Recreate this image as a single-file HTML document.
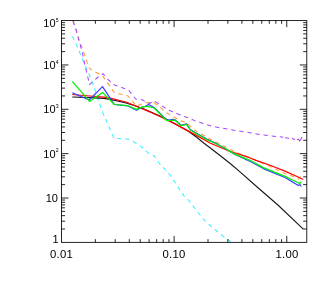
<!DOCTYPE html>
<html><head><meta charset="utf-8"><style>
html,body{margin:0;padding:0;background:#fff;}
svg{display:block;font-family:"Liberation Sans",sans-serif;}
text{fill:#000;}
</style></head><body>
<svg width="327" height="286" viewBox="0 0 327 286">
<rect width="327" height="286" fill="#fff"/>
<defs><filter id="tf" x="-10%" y="-10%" width="120%" height="120%"><feOffset dx="0" dy="0"/></filter><clipPath id="c"><rect x="61.45" y="20.6" width="245.35000000000002" height="221.75"/></clipPath></defs>
<g clip-path="url(#c)">
<path d="M72.3 36.3 L76.8 45.5 L79.8 52.9 L82.8 60.0 L86.5 68.2 L89.6 75.5 L92.2 82.0 L100.4 106.1 L103.0 113.2 L114.0 138.3 L128.7 139.2 L137.3 143.8 L142.3 147.5 L148.0 152.9 L154.5 156.0 L159.5 163.7 L165.6 169.8 L170.5 175.6 L175.4 182.7 L179.7 189.8 L184.0 195.9 L189.6 201.3 L194.3 207.7 L199.3 214.0 L204.5 220.3 L210.8 226.0 L216.8 231.0 L222.9 236.0 L229.2 240.5 L232.0 243.0" stroke="#38f0ff" stroke-width="1.05" fill="none" stroke-dasharray="4.25 3.86" stroke-dashoffset="0" stroke-linejoin="round"/>
<path d="M72.0 17.8 L73.5 22.9 L76.2 30.8 L78.7 38.8 L81.6 46.5 L84.4 54.5 L87.1 62.4 L89.4 68.6 L102.5 75.8 L114.4 92.8 L122.3 94.6 L127.9 95.9 L136.4 106.0 L145.6 102.7 L153.7 102.4 L160.1 107.1 L165.7 112.3 L173.0 116.5 L180.0 120.5 L186.6 122.7 L192.7 128.6 L198.9 133.0 L205.0 136.0 L211.7 139.9 L217.3 142.6 L225.3 147.0 L231.4 150.1 L238.1 153.1 L245.5 156.0 L250.0 157.6 L264.6 163.9 L271.3 167.0 L278.0 170.4 L285.0 173.6 L290.6 175.4 L294.8 177.1 L298.5 179.0 L300.7 176.5" stroke="#ff9a3c" stroke-width="1.05" fill="none" stroke-dasharray="4.3 3.9" stroke-dashoffset="5.0" stroke-linejoin="round"/>
<path d="M72.3 17.8 L73.8 22.9 L76.5 30.8 L78.5 38.8 L80.7 46.5 L82.7 54.5 L84.4 62.4 L86.1 70.0 L88.1 78.3 L89.4 84.7 L96.9 78.0 L102.8 73.7 L108.5 80.0 L114.4 84.9 L122.3 87.8 L128.5 90.0 L135.6 99.0 L142.1 99.7 L148.6 104.0 L154.3 100.9 L161.0 105.2 L168.0 109.9 L176.7 113.4 L183.6 116.3 L189.7 118.4 L196.4 121.5 L203.7 123.7 L211.7 126.1 L220.0 127.8 L232.6 130.0 L250.0 132.7 L262.0 134.9 L283.4 137.2" stroke="#a848f8" stroke-width="1.05" fill="none" stroke-dasharray="4.3 3.9" stroke-dashoffset="5.0" stroke-linejoin="round"/>
<path d="M285.1 137.7 L289.0 138.2" stroke="#a848f8" stroke-width="1.05" fill="none" stroke-linejoin="round"/>
<path d="M291.9 138.5 L294.9 139.4" stroke="#a848f8" stroke-width="1.05" fill="none" stroke-linejoin="round"/>
<path d="M296.9 139.7 L298.7 139.3 L299.6 141.0 L301.3 138.5 L302.0 137.0" stroke="#a848f8" stroke-width="1.05" fill="none" stroke-linejoin="round"/>
<path d="M72.3 97.0 L90.0 97.6 L104.0 98.4 L115.0 100.4 L126.0 103.0 L135.0 105.7 L144.0 109.0 L160.0 116.1 L175.0 123.7 L188.0 131.0 L196.0 136.7 L203.7 143.0 L210.0 147.7 L221.0 156.3 L232.0 165.0 L240.0 171.8 L258.3 188.0 L277.9 205.0 L303.3 229.1" stroke="#181818" stroke-width="1.1" fill="none" stroke-linejoin="round"/>
<path d="M72.3 94.5 L90.0 96.0 L104.0 97.1 L108.0 97.7 L126.0 102.0 L144.0 109.4 L160.0 116.5 L175.0 123.9 L198.2 136.4 L210.5 143.3 L228.3 150.8 L245.0 156.1 L250.0 158.0 L256.0 160.4 L270.0 165.3 L285.0 171.1 L298.6 177.2 L303.2 179.5" stroke="#ff0000" stroke-width="1.2" fill="none" stroke-linejoin="round"/>
<path d="M72.3 92.7 L89.2 100.0 L102.5 86.6 L109.5 97.1 L112.5 101.8 L114.4 104.5 L127.9 105.9 L136.4 110.3 L142.5 107.1 L145.2 106.3 L148.6 104.5 L154.1 107.4 L164.5 117.6 L166.9 120.2 L173.0 119.4 L174.9 119.7 L181.1 125.3 L186.6 123.9 L190.3 129.5 L198.2 134.2 L206.8 139.1 L215.0 142.8 L224.7 148.2 L234.5 154.3 L245.0 159.1 L250.0 161.2 L263.3 168.6 L285.0 177.5 L298.3 185.5 L300.0 184.6 L301.3 186.5" stroke="#3838ff" stroke-width="1.15" fill="none" stroke-linejoin="round"/>
<path d="M72.3 81.4 L89.6 101.4 L102.5 92.4 L114.4 104.5 L127.9 105.7 L136.4 109.4 L142.5 106.9 L147.7 106.3 L154.1 108.0 L166.9 120.7 L174.9 120.1 L181.1 125.7 L186.6 124.5 L190.3 130.0 L198.2 134.7 L206.8 139.6 L215.0 143.2 L224.7 148.3 L234.5 153.9 L245.0 158.4 L250.0 160.3 L263.3 167.6 L285.0 176.4 L299.6 183.5 L301.3 181.8" stroke="#00f000" stroke-width="1.25" fill="none" stroke-linejoin="round"/>
</g>
<rect x="61.45" y="20.6" width="245.35000000000002" height="221.75" fill="none" stroke="#000" stroke-width="0.85"/>
<path d="M95.36 242.35v-3.2M95.36 20.6v3.2M115.20 242.35v-3.2M115.20 20.6v3.2M129.27 242.35v-3.2M129.27 20.6v3.2M140.19 242.35v-3.2M140.19 20.6v3.2M149.11 242.35v-3.2M149.11 20.6v3.2M156.65 242.35v-3.2M156.65 20.6v3.2M163.18 242.35v-3.2M163.18 20.6v3.2M168.95 242.35v-3.2M168.95 20.6v3.2M174.10 242.35v-6.5M174.10 20.6v6.5M208.01 242.35v-3.2M208.01 20.6v3.2M227.85 242.35v-3.2M227.85 20.6v3.2M241.92 242.35v-3.2M241.92 20.6v3.2M252.84 242.35v-3.2M252.84 20.6v3.2M261.76 242.35v-3.2M261.76 20.6v3.2M269.30 242.35v-3.2M269.30 20.6v3.2M275.83 242.35v-3.2M275.83 20.6v3.2M281.60 242.35v-3.2M281.60 20.6v3.2M286.75 242.35v-6.5M286.75 20.6v6.5M61.45 229.00h3.6M306.8 229.00h-3.6M61.45 221.19h3.6M306.8 221.19h-3.6M61.45 215.65h3.6M306.8 215.65h-3.6M61.45 211.35h3.6M306.8 211.35h-3.6M61.45 207.84h3.6M306.8 207.84h-3.6M61.45 204.87h3.6M306.8 204.87h-3.6M61.45 202.30h3.6M306.8 202.30h-3.6M61.45 200.03h3.6M306.8 200.03h-3.6M61.45 198.00h7.0M306.8 198.00h-7.0M61.45 184.65h3.6M306.8 184.65h-3.6M61.45 176.84h3.6M306.8 176.84h-3.6M61.45 171.30h3.6M306.8 171.30h-3.6M61.45 167.00h3.6M306.8 167.00h-3.6M61.45 163.49h3.6M306.8 163.49h-3.6M61.45 160.52h3.6M306.8 160.52h-3.6M61.45 157.95h3.6M306.8 157.95h-3.6M61.45 155.68h3.6M306.8 155.68h-3.6M61.45 153.65h7.0M306.8 153.65h-7.0M61.45 140.30h3.6M306.8 140.30h-3.6M61.45 132.49h3.6M306.8 132.49h-3.6M61.45 126.95h3.6M306.8 126.95h-3.6M61.45 122.65h3.6M306.8 122.65h-3.6M61.45 119.14h3.6M306.8 119.14h-3.6M61.45 116.17h3.6M306.8 116.17h-3.6M61.45 113.60h3.6M306.8 113.60h-3.6M61.45 111.33h3.6M306.8 111.33h-3.6M61.45 109.30h7.0M306.8 109.30h-7.0M61.45 95.95h3.6M306.8 95.95h-3.6M61.45 88.14h3.6M306.8 88.14h-3.6M61.45 82.60h3.6M306.8 82.60h-3.6M61.45 78.30h3.6M306.8 78.30h-3.6M61.45 74.79h3.6M306.8 74.79h-3.6M61.45 71.82h3.6M306.8 71.82h-3.6M61.45 69.25h3.6M306.8 69.25h-3.6M61.45 66.98h3.6M306.8 66.98h-3.6M61.45 64.95h7.0M306.8 64.95h-7.0M61.45 51.60h3.6M306.8 51.60h-3.6M61.45 43.79h3.6M306.8 43.79h-3.6M61.45 38.25h3.6M306.8 38.25h-3.6M61.45 33.95h3.6M306.8 33.95h-3.6M61.45 30.44h3.6M306.8 30.44h-3.6M61.45 27.47h3.6M306.8 27.47h-3.6M61.45 24.90h3.6M306.8 24.90h-3.6M61.45 22.63h3.6M306.8 22.63h-3.6" stroke="#000" stroke-width="0.85" fill="none"/>
<g filter="url(#tf)">
<text x="58.7" y="243.0" text-anchor="end" font-size="11">1</text>
<text x="57.9" y="201.8" text-anchor="end" font-size="11">10</text>
<text x="55.6" y="157.5" text-anchor="end" font-size="11">10</text><text x="55.8" y="152.3" font-size="5.2">2</text>
<text x="55.6" y="113.2" text-anchor="end" font-size="11">10</text><text x="55.8" y="108.0" font-size="5.2">3</text>
<text x="55.6" y="68.8" text-anchor="end" font-size="11">10</text><text x="55.8" y="63.6" font-size="5.2">4</text>
<text x="55.6" y="27.4" text-anchor="end" font-size="11">10</text><text x="55.8" y="22.2" font-size="5.2">5</text>
<text x="50.0" y="257.7" font-size="11.3" letter-spacing="0.3">0.01</text>
<text x="162.5" y="257.7" font-size="11.3" letter-spacing="0.3">0.10</text>
<text x="275.5" y="257.7" font-size="11.3" letter-spacing="0.3">1.00</text>
</g>
</svg>
</body></html>
